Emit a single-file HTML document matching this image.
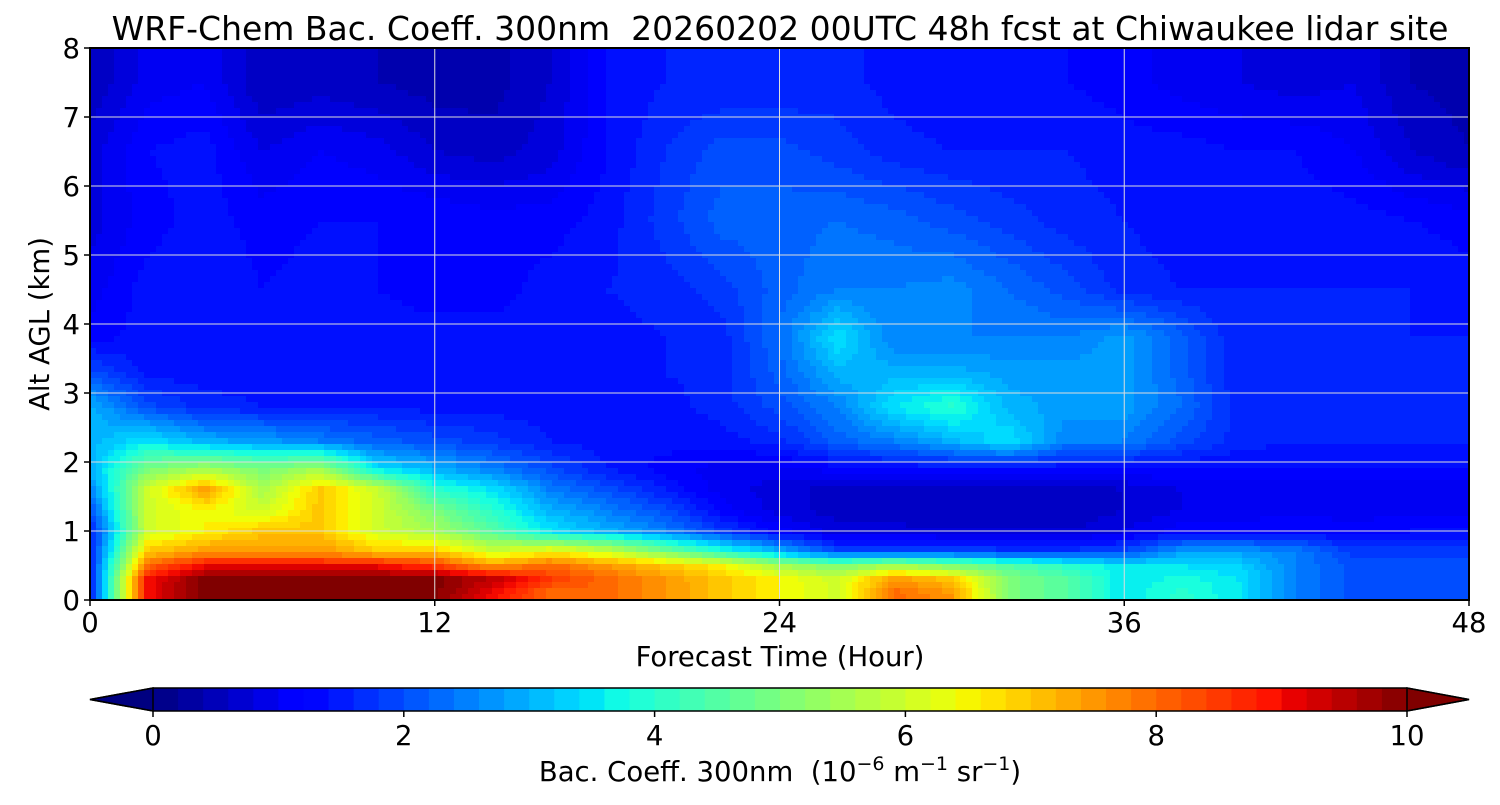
<!DOCTYPE html>
<html><head><meta charset="utf-8">
<style>
html,body{margin:0;padding:0;background:#fff;}
svg text{font-family:"DejaVu Sans","Liberation Sans",sans-serif;fill:#000;}
</style></head>
<body>
<svg id="chart" width="1500" height="800" viewBox="0 0 1500 800" xmlns="http://www.w3.org/2000/svg">
<text x="780" y="40" font-size="33" text-anchor="middle" xml:space="preserve">WRF-Chem Bac. Coeff. 300nm  20260202 00UTC 48h fcst at Chiwaukee lidar site</text>
<defs><clipPath id="plotclip"><rect x="90" y="48" width="1379" height="552"/></clipPath></defs>
<g id="heat" clip-path="url(#plotclip)"></g>
<g id="grid"></g>
<rect x="90" y="48" width="1379" height="552" fill="none" stroke="#000" stroke-width="2"/>
<g id="xaxis"></g>
<g id="yaxis"></g>
<text x="780" y="666" font-size="27.5" text-anchor="middle">Forecast Time (Hour)</text>
<text transform="translate(49,324) rotate(-90)" font-size="27.5" text-anchor="middle">Alt AGL (km)</text>
<g id="cbar"></g>
<text x="780" y="781" font-size="27.5" text-anchor="middle" xml:space="preserve">Bac. Coeff. 300nm  (10<tspan font-size="19" dy="-11">−6</tspan><tspan dy="11"> m</tspan><tspan font-size="19" dy="-11">−1</tspan><tspan dy="11"> sr</tspan><tspan font-size="19" dy="-11">−1</tspan><tspan dy="11">)</tspan></text>
</svg>
<script>
const times = [0,2,4,6,8,10,12,14,16,18,20,22,24,26,28,30,32,34,36,38,40,42,44,46,48];
const alts = [0.1,0.3,0.5,0.7,1.0,1.3,1.6,1.9,2.3,2.8,3.3,3.8,4.5,5.5,6.5,7.5];
const xTicks = [0,12,24,36,48];
const yTicks = [0,1,2,3,4,5,6,7,8];
const cbTicks = [0,2,4,6,8,10];
const vals = [
[1.5,9,10,10,10,10,10,9,8,8,7.5,7,6.5,6,8,7.5,5,4.5,3.5,4,3.5,2.5,2,2,2],
[1.5,9,10,10,10,10,10,9.5,8.5,8,7.5,7,6.5,6,7.5,7,5,4.5,3.5,3.8,3.5,2.5,2,2,2],
[1.5,8,9,9,9,9,8.5,7.5,8,7.5,7,6.5,5.5,5,5.5,5,4.5,4,3.5,3.5,3.3,2.5,2,2,2],
[1.5,7,7.5,7.5,7.5,7,7,6,6.5,6,5,4,3,2,2,2,1.8,1.8,2,2.8,2.8,2.5,1.8,1.8,1.8],
[1.5,6,6.5,7,7,6,5.5,4.5,3.5,3,2.5,1.8,1.2,0.8,0.8,0.7,0.7,0.7,0.9,1.2,1.2,1.3,1.2,1.3,1.3],
[2,6,6.5,6,7,6,5,4,3,2.5,2,1.2,0.8,0.6,0.5,0.5,0.5,0.5,0.7,0.9,1,1,1,1,1],
[2.5,6,7.5,5.5,7,6,4,3.5,2.5,2,1.5,1,0.8,0.6,0.6,0.6,0.6,0.6,0.7,0.9,1,1,1,1,1],
[3,5,5.5,5,5.5,3.5,3,2.5,2,1.5,1.2,1,1,1.2,1.3,1.3,1.3,1.3,1.3,1.3,1.3,1.3,1.3,1.3,1.3],
[3,3.5,3,2.8,2.5,2.2,2,1.8,1.5,1.4,1.4,1.4,1.6,2.2,2.5,3,3.5,2.5,2.5,2,1.6,1.5,1.5,1.5,1.5],
[3,2,1.6,1.5,1.5,1.5,1.4,1.4,1.4,1.4,1.4,1.6,2,2.5,3.5,4,3,2.8,2.8,2.3,1.6,1.5,1.5,1.5,1.5],
[2,1.4,1.4,1.4,1.4,1.4,1.4,1.4,1.4,1.4,1.5,1.6,2.2,3,3,3,2.8,2.8,2.8,2.2,1.5,1.5,1.5,1.5,1.5],
[1.2,1.4,1.4,1.4,1.4,1.4,1.4,1.4,1.4,1.4,1.5,1.6,2.3,3.5,2.5,2.5,2.5,2.5,2.8,2.2,1.5,1.5,1.5,1.5,1.5],
[1.0,1.4,1.5,1.3,1.4,1.3,1.2,1.2,1.4,1.5,1.6,1.8,2.2,2.5,2.5,2.6,2.3,2,1.6,1.5,1.5,1.5,1.5,1.5,1.4],
[0.8,1.2,1.4,1.2,1.3,1.3,1.3,1.2,1.2,1.4,1.8,2.2,2.2,2.3,2.2,2,1.8,1.6,1.5,1.4,1.4,1.4,1.4,1.3,1.2],
[0.8,1.3,1.4,0.9,1.1,1.0,0.7,0.6,0.8,1.3,1.7,2,2,1.8,1.6,1.5,1.5,1.5,1.4,1.4,1.3,1.3,1.1,0.7,0.5],
[0.5,1.0,1.1,0.5,0.6,0.5,0.4,0.4,0.7,1.3,1.5,1.5,1.5,1.6,1.4,1.3,1.3,1.3,1.2,1.0,0.9,0.8,0.9,0.5,0.4]
];
const NS='http://www.w3.org/2000/svg';
const X0=90,X1=1469,Y0=600,Y1=48;
const xS=t=>X0+(t/48)*(X1-X0);
const yS=a=>Y0-(a/8)*(Y0-Y1);
const cS=v=>153+(v/10)*(1407-153);
function jetc(f,pts){f=Math.max(0,Math.min(1,f));for(let i=1;i<pts.length;i++){if(f<=pts[i][0]){const a=pts[i-1],b=pts[i];return a[1]+(b[1]-a[1])*(f-a[0])/(b[0]-a[0]);}}return pts[pts.length-1][1];}
function jet(v){const f=v/10;
const r=jetc(f,[[0,0],[0.35,0],[0.66,1],[0.89,1],[1,0.5]]);
const g=jetc(f,[[0,0],[0.125,0],[0.375,1],[0.64,1],[0.91,0],[1,0]]);
const b=jetc(f,[[0,0.5],[0.11,1],[0.34,1],[0.65,0],[1,0]]);
return `rgb(${Math.round(r*255)},${Math.round(g*255)},${Math.round(b*255)})`;}
function idx(arr,v){if(v<=arr[0])return [0,0,0];if(v>=arr[arr.length-1])return [arr.length-1,arr.length-1,0];
for(let i=0;i<arr.length-1;i++){if(v<=arr[i+1])return [i,i+1,(v-arr[i])/(arr[i+1]-arr[i])];}}
function val(t,a){const [i0,i1,ft]=idx(times,t);const [j0,j1,fa]=idx(alts,a);
const v00=vals[j0][i0],v01=vals[j0][i1],v10=vals[j1][i0],v11=vals[j1][i1];
return (v00*(1-ft)+v01*ft)*(1-fa)+(v10*(1-ft)+v11*ft)*fa;}
function mk(tag,attrs,parent){const e=document.createElementNS(NS,tag);for(const k in attrs)e.setAttribute(k,attrs[k]);parent.appendChild(e);return e;}
const heat=document.getElementById('heat');
const step=6;
for(let px=X0;px<X1;px+=step){for(let py=Y1;py<Y0;py+=step){
const t=(px+step/2-X0)/(X1-X0)*48;const a=(Y0-(py+step/2))/(Y0-Y1)*8;
const v=Math.round(val(t,a)*5)/5;
const r=mk('rect',{x:px,y:py,width:step+0.6,height:step+0.6,fill:jet(v)},heat);


}}
const grid=document.getElementById('grid');
xTicks.forEach(t=>{const l=mk('line',{x1:xS(t),x2:xS(t),y1:Y1,y2:Y0,stroke:'#ddd','stroke-width':1},grid);
});
yTicks.forEach(a=>{const l=mk('line',{x1:X0,x2:X1,y1:yS(a),y2:yS(a),stroke:'#ddd','stroke-width':1},grid);
});
const xa=document.getElementById('xaxis');
xTicks.forEach(t=>{mk('line',{x1:xS(t),x2:xS(t),y1:Y0,y2:Y0+6,stroke:'#000','stroke-width':1.5},xa);
const tx=mk('text',{x:xS(t),y:632,'font-size':27.5,'text-anchor':'middle'},xa);tx.textContent=t;
});
const ya=document.getElementById('yaxis');
yTicks.forEach(a=>{mk('line',{x1:X0-6,x2:X0,y1:yS(a),y2:yS(a),stroke:'#000','stroke-width':1.5},ya);
const tx=mk('text',{x:80,y:yS(a)+10,'font-size':27.5,'text-anchor':'end'},ya);tx.textContent=a;
});
const cb=document.getElementById('cbar');
const CY0=688,CY1=711,nb=50;
for(let i=0;i<nb;i++){const v=(i+0.5)*10/nb;
const r=mk('rect',{x:cS(i*10/nb),y:CY0,width:(cS(10)-cS(0))/nb+0.6,height:CY1-CY0,fill:jet(v)},cb);
}
const tl=mk('polygon',{points:`${cS(0)},${CY0} 90,${(CY0+CY1)/2} ${cS(0)},${CY1}`,fill:jet(0),stroke:'#000','stroke-width':1.5},cb);

const tr=mk('polygon',{points:`${cS(10)},${CY0} 1469,${(CY0+CY1)/2} ${cS(10)},${CY1}`,fill:jet(10),stroke:'#000','stroke-width':1.5},cb);

mk('polygon',{points:`90,${(CY0+CY1)/2} ${cS(0)},${CY0} ${cS(10)},${CY0} 1469,${(CY0+CY1)/2} ${cS(10)},${CY1} ${cS(0)},${CY1}`,fill:'none',stroke:'#000','stroke-width':1.5},cb);
cbTicks.forEach(v=>{mk('line',{x1:cS(v),x2:cS(v),y1:CY1,y2:CY1+6,stroke:'#000','stroke-width':1.5},cb);
const tx=mk('text',{x:cS(v),y:745,'font-size':27.5,'text-anchor':'middle'},cb);tx.textContent=v;
});
</script>
</body></html>
